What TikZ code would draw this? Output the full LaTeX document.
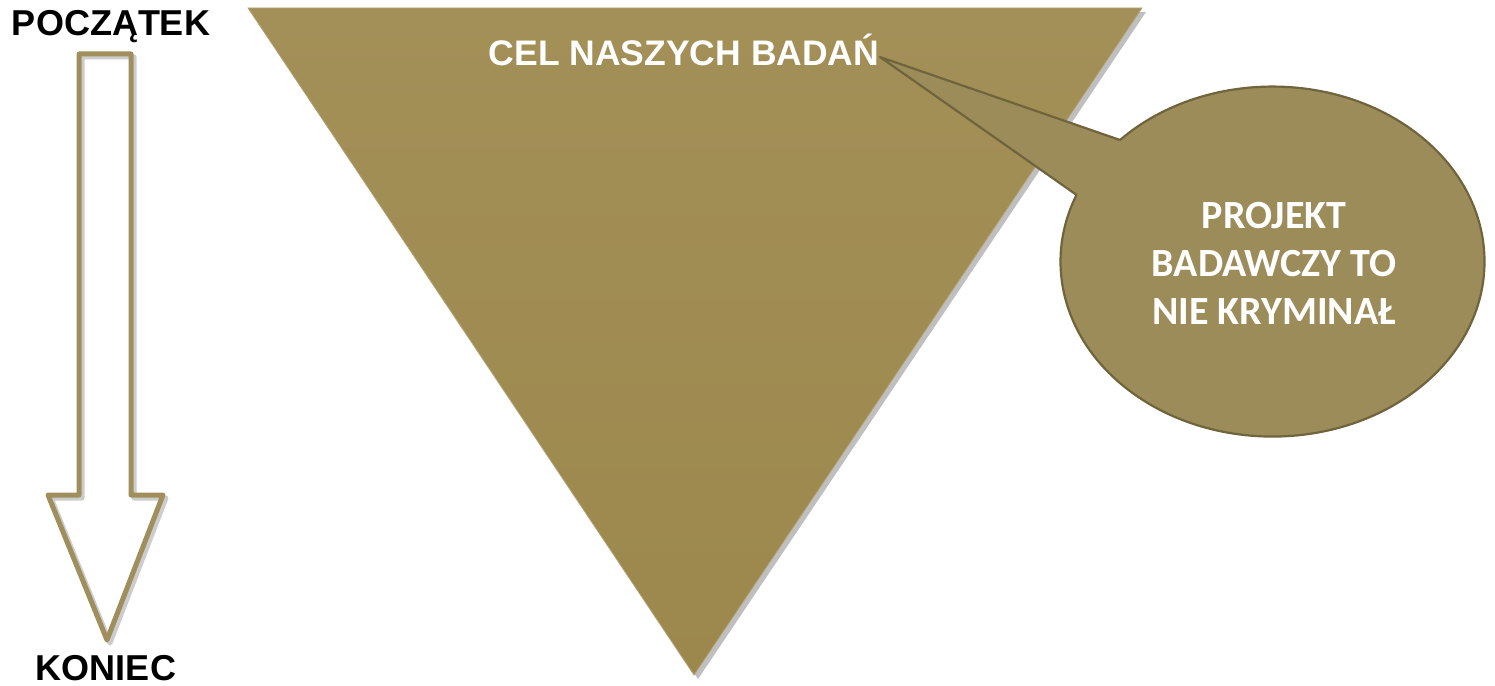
\documentclass[tikz,border=0pt]{standalone}
\usepackage{fontspec}
\setmainfont{Liberation Sans}
\newfontfamily\calib{Carlito}
\definecolor{gold}{RGB}{160,140,82}
\definecolor{goldlight}{RGB}{163,144,88}
\definecolor{golddark}{RGB}{156,136,76}
\definecolor{bubble}{RGB}{156,140,90}
\definecolor{bubbleline}{RGB}{112,100,60}
\definecolor{arrowline}{RGB}{160,143,92}
\tikzset{
  lbl/.style={font=\bfseries\fontsize{36}{40}\selectfont, text=black, inner sep=0pt},
  tri/.style={top color=goldlight, bottom color=golddark, draw=gold!80!white, line width=0.8pt},
  trishadow/.style={fill=black, opacity=0.25},
  arr/.style={draw=arrowline, line width=5pt, line join=round},
  arrshadow/.style={draw=black, opacity=0.2, line width=5pt, line join=round},
  bub/.style={fill=bubble, draw=bubbleline, line width=2.2pt, line join=round}
}
\begin{document}
\begin{tikzpicture}[x=1pt,y=-1pt]
\useasboundingbox (0,0) rectangle (1495,685);
% big triangle
\coordinate (t1) at (248,8);
\coordinate (t2) at (1142,8);
\coordinate (t3) at (694,675);
\path[trishadow] ([shift={(4,4)}]t1) -- ([shift={(4,4)}]t2) -- ([shift={(4,4)}]t3) -- cycle;
\path[tri] (t1) -- (t2) -- (t3) -- cycle;
\node[font=\bfseries\fontsize{35.5}{40}\selectfont, text=white, inner sep=0pt] (cel) at (684,50) {CEL NASZYCH BADAŃ};
% down arrow outline
\path[arrshadow] (82,57) -- (134,57) -- (134,498) -- (166,498) -- (110,643) -- (51,498) -- (82,498) -- cycle;
\path[arr] (79,54) -- (131,54) -- (131,495) -- (163,495) -- (107,640) -- (48,495) -- (79,495) -- cycle;
\node[lbl] (start) at (111,27) {POCZĄTEK};
\node[lbl] (end) at (106,668) {KONIEC};
% callout bubble
\coordinate (tip) at (880,57);
\path[bub] (tip) -- (1120,140) arc[start angle=-136, end angle=202.4, x radius=212, y radius=175] -- cycle;
\node[font=\calib\bfseries\fontsize{40}{48}\selectfont, text=white, align=center, inner sep=0pt] (proj) at (1274,263) {PROJEKT\\BADAWCZY TO\\NIE KRYMINAŁ};
\end{tikzpicture}
\end{document}
